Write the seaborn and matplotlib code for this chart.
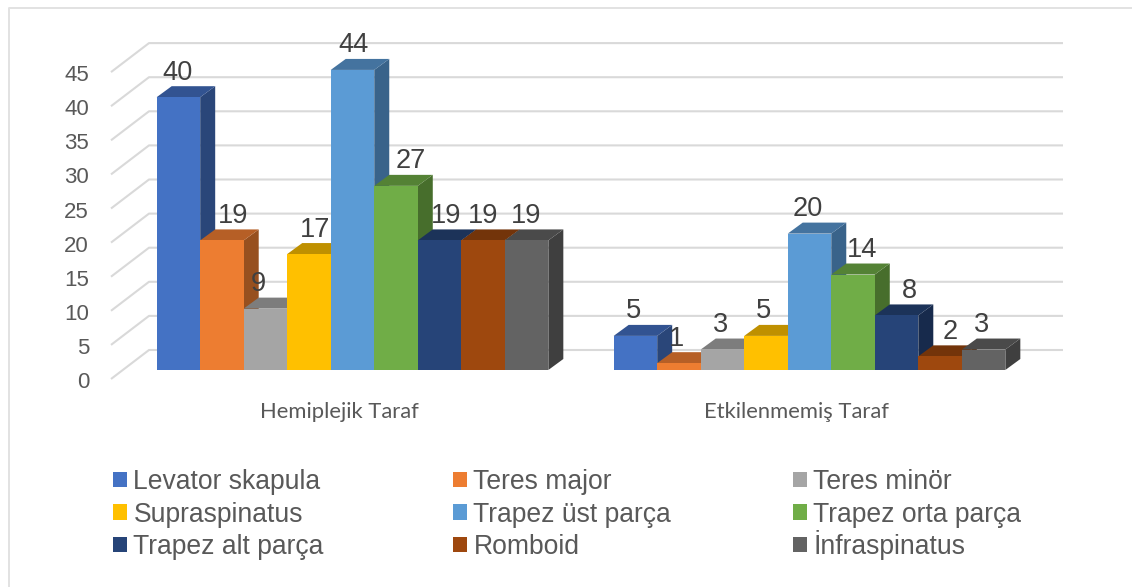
import matplotlib
matplotlib.use("Agg")
import matplotlib.pyplot as plt
import seaborn as sns
import pandas as pd
from matplotlib.lines import Line2D
from matplotlib.patches import Polygon
from matplotlib.transforms import ScaledTranslation

sides = ["Hemiplejik Taraf", "Etkilenmemiş Taraf"]
muscles = ["Levator skapula", "Teres major", "Teres minör", "Supraspinatus", "Trapez üst parça",
           "Trapez orta parça", "Trapez alt parça", "Romboid", "İnfraspinatus"]
hemiplegic = [40, 19, 9, 17, 44, 27, 19, 19, 19]
unaffected = [5, 1, 3, 5, 20, 14, 8, 2, 3]
y_ticks = [0, 5, 10, 15, 20, 25, 30, 35, 40, 45]

front_colors = ["#4472C4", "#ED7D31", "#A5A5A5", "#FFC000", "#5B9BD5", "#70AD47", "#264478", "#9E480E", "#636363"]
top_colors = ["#325391", "#B65F26", "#7D7D7D", "#BF9000", "#44739F", "#548235", "#1C3359", "#73340A", "#4A4A4A"]
side_colors = ["#2A4679", "#97501F", "#686868", "#A07800", "#39638A", "#476E2C", "#172A4C", "#62300A", "#3F3F3F"]
# label nudges in px relative to bar centre, one per bar (group 1 then group 2)
nudge_x = [-1, 11, -7, 6, 1, 15, 7, 0, -1, -2, -2, -2, -3, -2, 9, 13, 10, -2]

W, H = 1132, 587
PX_UNIT = 6.82
GROUP0, GROUP_STEP = 352.5, 457.0
LEFT, RIGHT, BASE = 111, 1063, 370

df = pd.DataFrame({
    "side": [s for s in sides for _ in muscles],
    "muscle": muscles * 2,
    "value": hemiplegic + unaffected,
})

sns.set_theme(style="white")
plt.rcParams["font.family"] = ["Liberation Sans", "DejaVu Sans"]

fig = plt.figure(figsize=(W / 100, H / 100), dpi=100, facecolor="white")
top_px = BASE - 45 * PX_UNIT
ax = fig.add_axes([LEFT / W, 1 - BASE / H, (RIGHT - LEFT) / W, (BASE - top_px) / H])
ax.patch.set_alpha(0)

sns.barplot(data=df, x="side", y="value", hue="muscle", order=sides, hue_order=muscles,
            palette=front_colors, saturation=1, width=0.857, gap=0, dodge=True, errorbar=None,
            linewidth=0, ax=ax)
ax.set_xlim((LEFT - GROUP0) / GROUP_STEP, (RIGHT - GROUP0) / GROUP_STEP)
ax.set_ylim(0, 45)
ax.set_xlabel("")
ax.set_ylabel("")
sns.despine(ax=ax, left=True, bottom=True)

def x_px(px):
    return (px - GROUP0) / GROUP_STEP

# back wall gridlines and floor diagonals
for v in y_ticks:
    front = v - 9 / PX_UNIT
    back = v + 20 / PX_UNIT
    ax.plot([x_px(111), x_px(149), x_px(1063)], [front, back, back], color="#D9D9D9", lw=1.5,
            clip_on=False, zorder=1, solid_joinstyle="round", solid_capstyle="butt")

# faux 3D depth from the bars' own geometry
dx = 15 / GROUP_STEP
dy = 11 / PX_UNIT
bars = []
for i, cont in enumerate(ax.containers):
    for g, bar in enumerate(cont):
        bars.append((g, i, bar))
bars.sort(key=lambda b: (b[0], b[1]))
for order, (g, i, bar) in enumerate(bars):
    x0, w, h = bar.get_x(), bar.get_width(), bar.get_height()
    z = 2 + 2 * order
    ax.add_patch(Polygon([(x0 + w, 0), (x0 + w + dx, dy), (x0 + w + dx, h + dy), (x0 + w, h)],
                         closed=True, fc=side_colors[i], ec="none", zorder=z, clip_on=False))
    ax.add_patch(Polygon([(x0, h), (x0 + dx, h + dy), (x0 + w + dx, h + dy), (x0 + w, h)],
                         closed=True, fc=top_colors[i], ec="none", zorder=z, clip_on=False))
    bar.set_zorder(z + 1)
    ax.annotate(f"{int(h)}", xy=(x0 + w / 2, h), xytext=(nudge_x[order] * 0.72, 24.5 * 0.72),
                textcoords="offset points", ha="center", va="center", fontsize=19.6,
                color="#404040", zorder=200, annotation_clip=False)

# axis text
ax.set_yticks(y_ticks)
ax.tick_params(axis="y", length=0, pad=15.8, labelsize=16, labelcolor="#595959")
shift_y = ScaledTranslation(0, -10 / 100, fig.dpi_scale_trans)
for lab in ax.get_yticklabels():
    lab.set_transform(lab.get_transform() + shift_y)
ax.tick_params(axis="x", length=0, pad=23, labelsize=15.8, labelcolor="#595959")
shift_x = ScaledTranslation(-13 / 100, 0, fig.dpi_scale_trans)
for lab in ax.get_xticklabels():
    lab.set_family(["Lato", "DejaVu Sans"])
    lab.set_transform(lab.get_transform() + shift_x)

# legend: one entry per cell so that columns and baselines stay on the reference grid
handles = [c[0] for c in ax.containers]
ax.get_legend().remove()
legend_cols = [113, 453, 793]
legend_rows = [495, 527.5, 560]
for i, (handle, name) in enumerate(zip(handles, muscles)):
    px, py = legend_cols[i % 3], legend_rows[i // 3]
    fig.legend([handle], [name], frameon=False, loc="lower left",
               bbox_to_anchor=(px / W, 1 - py / H), borderpad=0, borderaxespad=0,
               fontsize=19.1, labelcolor="#595959", handlelength=0.53, handleheight=0.53,
               handletextpad=0.24)

# chart frame (left and top edges only are visible in the reference)
fig.add_artist(Line2D([8.5 / W, 8.5 / W, 1], [0, 1 - 7.5 / H, 1 - 7.5 / H], color="#E2E2E2", lw=1.4,
                      transform=fig.transFigure))

fig.savefig("out.png", dpi=100)
